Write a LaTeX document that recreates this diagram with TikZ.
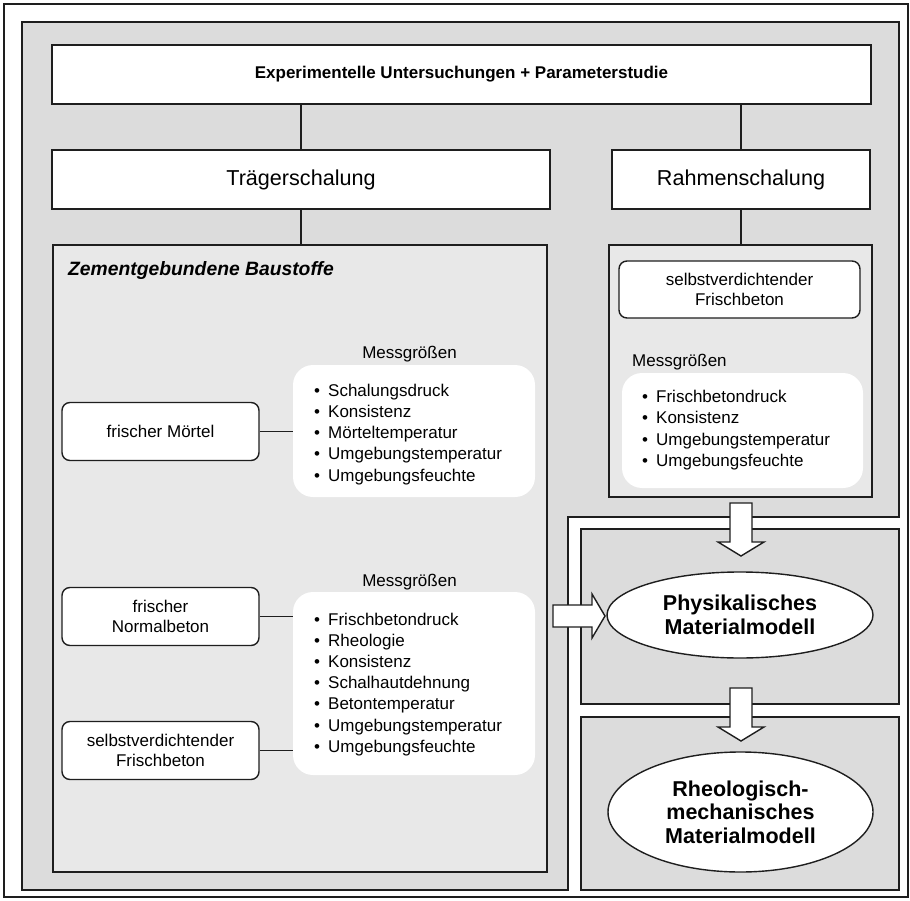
\documentclass[tikz,border=0pt]{standalone}
\usepackage{fontspec}
\setmainfont{Liberation Sans}
\usetikzlibrary{shapes.geometric}
\definecolor{panelgray}{HTML}{DCDCDC}
\definecolor{innergray}{HTML}{E8E8E8}
\definecolor{linecol}{HTML}{1E1E1E}
\newcommand{\itembul}{\makebox[14pt][l]{•}}
\begin{document}
\begin{tikzpicture}[x=1pt,y=-1pt,
  line/.style={draw=linecol, line width=1.4pt},
  headbox/.style={line, fill=white, inner sep=0pt},
  panel/.style={line, fill=panelgray},
  innerpanel/.style={line, fill=innergray, inner sep=0pt},
  rbox/.style={line, fill=white, rounded corners=8pt, inner sep=0pt, align=center,
    minimum width=197pt, minimum height=58pt, font=\fontsize{17}{20.5}\selectfont},
  wbox/.style={fill=white, rounded corners=20pt, inner sep=0pt},
  itemtext/.style={anchor=base west, inner sep=0pt, font=\fontsize{17}{20}\selectfont},
  labeltext/.style={inner sep=0pt, font=\fontsize{17}{20}\selectfont},
  model/.style={ellipse, line, fill=white, inner sep=0pt, align=center,
    font=\bfseries\fontsize{21.5}{23.5}\selectfont},
  blockarrow/.style={line, fill=white, line join=miter}
]
\useasboundingbox (0,0) rectangle (910,901);
% outer frame
\draw[line] (4,4) rectangle (908,897);
% big gray panel (L-shape)
\draw[panel] (22,22) -- (899,22) -- (899,517) -- (568,517) -- (568,890) -- (22,890) -- cycle;
% right model panels
\draw[panel] (581,529) rectangle (899,704);
\draw[panel] (581,717) rectangle (899,890);

% header boxes
\node[headbox, minimum width=819pt, minimum height=59pt,
  font=\bfseries\fontsize{17}{20}\selectfont] (top) at (461.5,74.5)
  {Experimentelle Untersuchungen + Parameterstudie};
\node[headbox, minimum width=498pt, minimum height=59pt,
  font=\fontsize{21.6}{24}\selectfont] (traeger) at (301,179.5) {Trägerschalung};
\node[headbox, minimum width=258pt, minimum height=59pt,
  font=\fontsize{21.6}{24}\selectfont] (rahmen) at (741,179.5) {Rahmenschalung};
\draw[line] (top.south -| traeger.north) -- (traeger.north);
\draw[line] (top.south -| rahmen.north) -- (rahmen.north);

% inner panels
\node[innerpanel, minimum width=494pt, minimum height=627pt] (zem) at (300,558.5) {};
\node[innerpanel, minimum width=263pt, minimum height=252pt] (rin) at (740.5,371) {};
\draw[line] (traeger.south) -- (traeger.south |- zem.north);
\draw[line] (rahmen.south) -- (rahmen.south |- rin.north);

\node[anchor=base west, inner sep=0pt, font=\bfseries\itshape\fontsize{19.3}{22}\selectfont]
  (zemtitle) at (68,276) {Zementgebundene Baustoffe};

% left column
\node[rbox] (mort) at (160.5,431.5) {frischer Mörtel};
\node[rbox] (normal) at (160.5,616.5) {frischer\\Normalbeton};
\node[rbox] (scc) at (160.5,750.5) {selbstverdichtender\\Frischbeton};

\node[wbox, minimum width=242pt, minimum height=132pt] (wb1) at (414,431) {};
\node[wbox, minimum width=242pt, minimum height=183pt] (wb2) at (414,683.5) {};
\node[labeltext, anchor=base] (mg1) at (409.5,358) {Messgrößen};
\node[labeltext, anchor=base] (mg2) at (409.5,586) {Messgrößen};

\foreach \t [count=\i] in {Schalungsdruck, Konsistenz, Mörteltemperatur, Umgebungstemperatur, Umgebungsfeuchte}
  \node[itemtext] (ma\i) at (314,{396+21.25*(\i-1)}) {\itembul\t};
\foreach \t [count=\i] in {Frischbetondruck, Rheologie, Konsistenz, Schalhautdehnung, Betontemperatur, Umgebungstemperatur, Umgebungsfeuchte}
  \node[itemtext] (mb\i) at (314,{625+21.2*(\i-1)}) {\itembul\t};

\draw[line] (mort.east) -- (mort.east -| wb1.west);
\draw[line] (normal.east) -- (normal.east -| wb2.west);
\draw[line] (scc.east) -- (scc.east -| wb2.west);

% right column
\node[rbox, minimum width=241pt, minimum height=57pt] (sccr) at (739.5,289.5) {selbstverdichtender\\Frischbeton};
\node[labeltext, anchor=base west] (mg3) at (632,366) {Messgrößen};
\node[wbox, minimum width=241pt, minimum height=115pt] (wb3) at (742.5,430.5) {};
\foreach \t [count=\i] in {Frischbetondruck, Konsistenz, Umgebungstemperatur, Umgebungsfeuchte}
  \node[itemtext] (mc\i) at (642,{402+21.5*(\i-1)}) {\itembul\t};

% block arrows
\draw[blockarrow] (730,503) -- (752,503) -- (752,542) -- (764,542) -- (741,556) -- (718,542) -- (730,542) -- cycle;
\draw[blockarrow] (730,688) -- (752,688) -- (752,727) -- (764,727) -- (741,741) -- (718,727) -- (730,727) -- cycle;
\draw[blockarrow] (553,605) -- (592,605) -- (592,594) -- (605,616) -- (592,638) -- (592,627) -- (553,627) -- cycle;

% model ellipses
\node[model, minimum width=266pt, minimum height=86pt] (phys) at (740,615) {Physikalisches\\Materialmodell};
\node[model, minimum width=265pt, minimum height=120pt] (rheo) at (740.5,812) {Rheologisch-\\mechanisches\\Materialmodell};
\end{tikzpicture}
\end{document}
